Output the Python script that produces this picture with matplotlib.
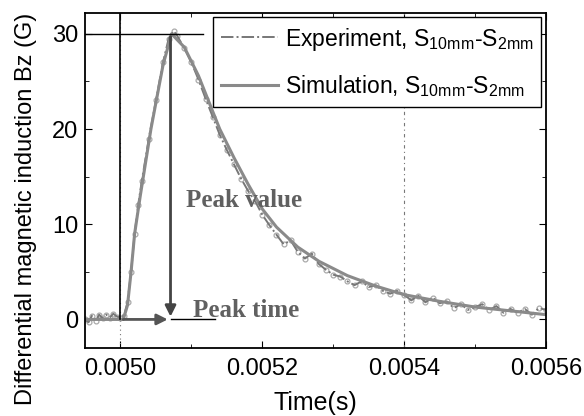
import matplotlib
matplotlib.use("Agg")
import matplotlib.pyplot as plt
from matplotlib.ticker import MultipleLocator, FormatStrFormatter

plt.rcParams['font.family'] = ['Liberation Sans', 'DejaVu Sans']
plt.rcParams['mathtext.fontset'] = 'custom'
plt.rcParams['mathtext.rm'] = 'Liberation Sans'

# simulation curve
sim_t = [0.00495, 0.00498, 0.005004, 0.00501, 0.005015, 0.00502, 0.005028,
         0.005043, 0.00506, 0.005072, 0.00509, 0.00511, 0.00514, 0.00516,
         0.00518, 0.00520, 0.00522, 0.00525, 0.00528, 0.00532, 0.00536,
         0.00540, 0.00545, 0.00550, 0.00555, 0.00560]
sim_b = [0.0, 0.0, 0.0, 1.5, 5.0, 9.0, 13.0,
         20.0, 26.7, 30.0, 28.6, 25.6, 20.0, 17.0,
         14.2, 11.6, 9.7, 7.6, 6.1, 4.6, 3.5,
         2.6, 1.9, 1.3, 0.9, 0.5]

# experiment (noisy measurement)
exp_t = [0.004950, 0.004955, 0.004960, 0.004965, 0.004970, 0.004975, 0.004980,
         0.004985, 0.004990, 0.004995, 0.005000, 0.005005, 0.005010, 0.005015,
         0.005020, 0.005025, 0.005030, 0.005040, 0.005050, 0.005060, 0.005068,
         0.005075, 0.005080, 0.005090, 0.005100, 0.005110, 0.005120, 0.005130,
         0.005140, 0.005150, 0.005160, 0.005170, 0.005180, 0.005190, 0.005200,
         0.005210, 0.005220, 0.005230, 0.005240, 0.005250, 0.005260, 0.005270,
         0.005280, 0.005290, 0.005300, 0.005310, 0.005320, 0.005330, 0.005340,
         0.005350, 0.005360, 0.005370, 0.005380, 0.005390, 0.005400, 0.005410,
         0.005420, 0.005430, 0.005440, 0.005450, 0.005460, 0.005470, 0.005480,
         0.005490, 0.005500, 0.005510, 0.005520, 0.005530, 0.005540, 0.005550,
         0.005560, 0.005570, 0.005580, 0.005590, 0.005600]
exp_b = [0.0, -0.3, 0.4, -0.2, 0.5, 0.1, 0.5,
         0.2, 0.6, 0.3, 0.2, 0.4, 1.8, 5.0,
         9.0, 12.0, 14.5, 19.0, 23.0, 27.0, 29.5,
         30.3, 29.8, 28.5, 27.0, 25.2, 23.2, 21.3,
         19.4, 17.8, 16.3, 14.8, 13.5, 12.4, 11.0,
         9.9, 8.9, 7.9, 8.3, 7.1, 6.4, 6.9,
         5.8, 5.2, 4.7, 4.5, 4.0, 3.6, 4.0,
         3.4, 3.6, 3.0, 2.7, 3.0, 2.6, 2.0,
         2.5, 1.8, 2.3, 1.7, 1.9, 1.2, 1.6,
         1.0, 1.3, 1.6, 1.0, 1.4, 0.7, 1.1,
         0.7, 1.1, 0.5, 1.2, 1.0]

peak_t = 0.0050706
peak_b = 30.0
start_t = 0.0050

fig = plt.figure(figsize=(5.84, 4.16), dpi=100)
ax = fig.add_axes([0.1455, 0.1635, 0.7895, 0.8055])

ax.axvline(0.0050, color='#777', lw=0.8, ls=(0, (1, 3)))
ax.axvline(0.0054, color='#777', lw=0.8, ls=(0, (3, 3, 1, 3)))

ax.plot(exp_t, exp_b, ls='none', marker='o', ms=3.5, mfc='none', mec='#aaa', mew=0.9)
ax.plot(exp_t, exp_b, '-.', color='#777', lw=1.4, label='Experiment, S$_{\\mathrm{10mm}}$-S$_{\\mathrm{2mm}}$')
ax.plot(sim_t, sim_b, '-', color='#8a8a8a', lw=2.2, label='Simulation, S$_{\\mathrm{10mm}}$-S$_{\\mathrm{2mm}}$')

# peak annotation lines
ax.plot([start_t, start_t], [0, 32.2], color='black', lw=1.2)
ax.plot([0.00495, 0.005117], [peak_b, peak_b], color='black', lw=1.0)
ax.plot([peak_t, 0.005133], [0, 0], color='black', lw=1.0)
ax.annotate('', xy=(peak_t, 0), xytext=(peak_t, peak_b),
            arrowprops=dict(arrowstyle='-|>', color='#444', lw=2, mutation_scale=16))
ax.annotate('', xy=(peak_t, 0), xytext=(start_t, 0),
            arrowprops=dict(arrowstyle='-|>', color='#555', lw=2, mutation_scale=16))

ax.text(0.005093, 12.5, 'Peak value', family=['Liberation Serif'], weight='bold',
        fontsize=18, color='#606060', va='center', ha='left')
ax.text(0.0051016, 0.95, 'Peak time', family=['Liberation Serif'], weight='bold',
        fontsize=18, color='#606060', va='center', ha='left')

ax.set_xlim(0.00495, 0.0056)
ax.set_ylim(-3, 32.2)
ax.xaxis.set_major_locator(MultipleLocator(0.0002))
ax.xaxis.set_minor_locator(MultipleLocator(0.0001))
ax.xaxis.set_major_formatter(FormatStrFormatter('%.4f'))
ax.yaxis.set_major_locator(MultipleLocator(10))
ax.yaxis.set_minor_locator(MultipleLocator(5))
ax.tick_params(which='both', direction='in', top=True, right=True, labelsize=17)
ax.tick_params(which='major', length=5)
ax.tick_params(which='minor', length=3)
ax.tick_params(axis='x', pad=7)
ax.tick_params(axis='y', pad=5)
for s in ax.spines.values():
    s.set_linewidth(1.3)

ax.set_xlabel('Time(s)', fontsize=18)
ax.xaxis.set_label_coords(0.5, -0.128)
ax.set_ylabel('Differential magnetic induction Bz (G)', fontsize=17)
ax.yaxis.set_label_coords(-0.105, 0.415)

leg = ax.legend(loc='upper right', fontsize=16.5, frameon=True, fancybox=False,
                edgecolor='black', framealpha=1, handlelength=2.5, handletextpad=0.3,
                borderaxespad=0.2, borderpad=0.35, labelspacing=0.9)
leg.get_frame().set_linewidth(1.0)

fig.savefig('out.png', dpi=100)
